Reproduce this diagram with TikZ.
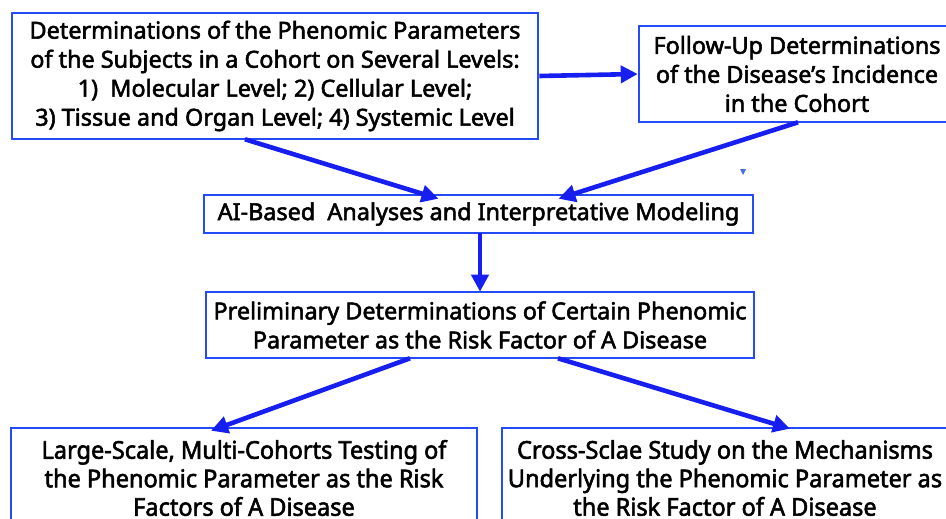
\documentclass[tikz,border=0pt]{standalone}
\usepackage{fontspec}
\setmainfont[FakeBold=2.3]{Noto Sans}
\newfontfamily\condfont[FakeBold=2.3,FakeStretch=0.96]{Noto Sans}
\usetikzlibrary{arrows.meta,calc}
\definecolor{boxblue}{RGB}{35,75,250}
\definecolor{arrblue}{RGB}{22,30,240}
\definecolor{markblue}{RGB}{70,110,220}
\begin{document}
\begin{tikzpicture}[x=1pt,y=-1pt,
  box/.style={draw=boxblue,line width=2.6pt,fill=white,align=center,inner sep=0pt,
    font=\fontsize{23.4}{29}\selectfont,text=black},
  condbox/.style={box,font=\condfont\fontsize{24.5}{28.5}\selectfont},
  arr/.style={draw=arrblue,line width=4.6pt,-{Triangle[length=17pt,width=17pt]}}]
\useasboundingbox (0,0) rectangle (946,519);
\clip (0,0) rectangle (946,519);
\node[box,minimum width=526pt,minimum height=126pt] (b1) at (275,76)
  {Determinations of the Phenomic Parameters\\of the Subjects in a Cohort on Several Levels:\\1)\ \ Molecular Level; 2) Cellular Level;\\3) Tissue and Organ Level; 4) Systemic Level};
\node[box,minimum width=316pt,minimum height=96pt] (b2) at (797,74)
  {Follow-Up Determinations\\of the Disease’s Incidence\\in the Cohort};
\node[box,minimum width=549pt,minimum height=38pt] (b3) at (478.5,214)
  {AI-Based\ \ Analyses and Interpretative Modeling};
\node[box,minimum width=548pt,minimum height=66pt] (b4) at (480,325)
  {Preliminary Determinations of Certain Phenomic\\Parameter as the Risk Factor of A Disease};
\node[condbox,minimum width=466pt,minimum height=100pt] (b5) at (244,478)
  {Large-Scale, Multi-Cohorts Testing of\\the Phenomic Parameter as the Risk\\Factors of A Disease};
\node[condbox,minimum width=446pt,minimum height=100pt] (b6) at (725,478)
  {Cross-Sclae Study on the Mechanisms\\Underlying the Phenomic Parameter as\\the Risk Factor of A Disease};
\draw[arr] (b1.east) -- (b2.west);
\draw[arr] ([xshift=-30pt,yshift=1pt]b1.south) -- ([xshift=-40pt,yshift=-5pt]b3.north);
\draw[arr] ([xshift=1pt,yshift=1pt]b2.south) -- ([xshift=80pt,yshift=-5pt]b3.north);
\draw[arr] ([xshift=1.5pt,yshift=1pt]b3.south) -- ([xshift=0pt,yshift=-1pt]b4.north);
\draw[arr] ([xshift=-70pt,yshift=1pt]b4.south) -- ([xshift=-33pt,yshift=-4pt]b5.north);
\draw[arr] ([xshift=78pt,yshift=1pt]b4.south) -- ([xshift=65pt,yshift=-2pt]b6.north);
\fill[markblue] (740,169) -- (746,169) -- (743,175) -- cycle;
\end{tikzpicture}
\end{document}
